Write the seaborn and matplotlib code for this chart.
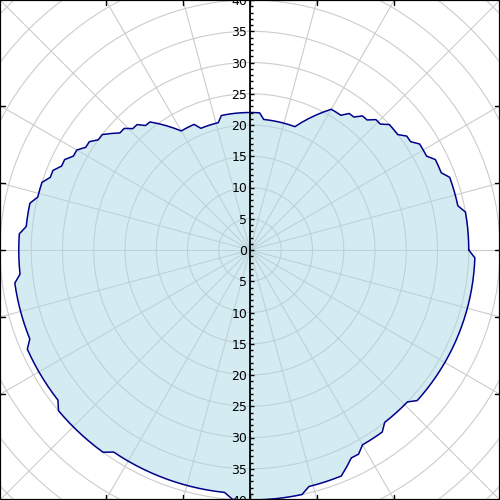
import numpy as np
import pandas as pd
import matplotlib
matplotlib.use("Agg")
import matplotlib.pyplot as plt
import seaborn as sns
from matplotlib.ticker import MultipleLocator, FuncFormatter
from matplotlib.patches import Circle, Rectangle

# ---- data: radius (integer values) every 2 degrees, counter-clockwise from east ----
angles_deg = list(range(0, 360, 2))
radii = (
    [35, 35, 35, 35, 35, 35] +                 # 0-10
    [34, 34, 34, 34, 34] +                     # 12-20
    [33, 33, 33] +                             # 22-26
    [32, 32, 32] +                             # 28-32
    [31, 31] +                                 # 34-36
    [30, 30, 30] +                             # 38-42
    [29, 29] +                                 # 44-46
    [28, 28] +                                 # 48-50
    [27, 27] +                                 # 52-54
    [26, 26, 26] +                             # 56-60
    [25, 24, 23, 22] +                         # 62-68
    [21, 21, 21, 21, 21, 21, 21, 21] +         # 70-84
    [22, 22, 22, 22, 22, 22, 22, 22, 22] +     # 86-102
    [21, 21, 21, 21, 21] +                     # 104-112
    [22, 22, 22, 22] +                         # 114-120
    [23, 24, 25, 26, 26, 27, 27, 28, 28, 29, 30, 30,
     31, 31, 32, 32, 33, 33, 34, 34, 35, 35, 35] +   # 122-166
    [36, 36, 36, 36] +                         # 168-174
    [37, 37, 37, 37, 37, 37] +                 # 176-186
    [38, 38, 38, 38, 38, 38, 38, 38] +         # 188-202
    [39, 39, 39, 39, 39, 39, 39, 39] +         # 204-218
    [40, 40, 40, 40, 40, 40, 40, 40] +         # 220-234
    [39] * 15 +                                # 236-264
    [40] * 9 +                                 # 266-282
    [39] * 5 +                                 # 284-292
    [38, 37, 37] +                             # 294-298
    [36, 36, 36, 36] +                         # 300-306
    [35, 35, 35, 35, 35] +                     # 308-316
    [36] * 21                                  # 318-358
)
assert len(radii) == len(angles_deg)

radial_tick_step = 5
grid_radii = list(range(5, 60, 5))
spoke_angles = list(range(0, 360, 15))
r_max = 40

# ---- build table ----
df = pd.DataFrame({"angle": angles_deg + [angles_deg[0]],
                   "r": radii + [radii[0]]})
theta = np.deg2rad(df["angle"].to_numpy())
df["x"] = df["r"] * np.cos(theta)
df["y"] = df["r"] * np.sin(theta)

sns.set_style("white")
fig = plt.figure(figsize=(5, 5), dpi=100)
ax = fig.add_axes([0, 0, 1, 1])
ax.set_xlim(-r_max, r_max)
ax.set_ylim(-r_max, r_max)

# grid circles and spokes
for gr in grid_radii:
    ax.add_patch(Circle((0, 0), gr, fill=False, ec="#cccccc", lw=0.8, zorder=1))
for a in spoke_angles:
    t = np.deg2rad(a)
    ax.plot([0, 60 * np.cos(t)], [0, 60 * np.sin(t)], color="#cccccc", lw=0.8, zorder=1)

# frame ticks where spokes meet the frame
tick_len = 0.8
for a in spoke_angles:
    t = np.deg2rad(a)
    c, s = np.cos(t), np.sin(t)
    if abs(abs(c) - abs(s)) < 1e-6:
        continue
    m = max(abs(c), abs(s))
    px, py = r_max * c / m, r_max * s / m
    if abs(c) > abs(s):
        ax.plot([px, px - np.sign(c) * tick_len], [py, py], color="black", lw=1, zorder=5, clip_on=False)
    else:
        ax.plot([px, px], [py, py - np.sign(s) * tick_len], color="black", lw=1, zorder=5, clip_on=False)

# data
ax.fill(df["x"], df["y"], color="lightblue", alpha=0.5, lw=0, zorder=2)
sns.lineplot(data=df, x="x", y="y", sort=False, estimator=None, color="darkblue",
             lw=1.1, ax=ax, zorder=3)

# axes styling
for side in ["top", "right", "bottom"]:
    ax.spines[side].set_visible(False)
ax.spines["left"].set_position(("data", 0))
ax.spines["left"].set_linewidth(1.3)
ax.spines["left"].set_color("black")
ax.spines["left"].set_zorder(6)
ax.add_patch(Rectangle((0, 0), 1, 1, transform=ax.transAxes, fill=False, ec="black",
                       lw=1.6, zorder=7, clip_on=False))

ax.set_xticks([])
ax.yaxis.set_zorder(6)
ax.yaxis.set_major_locator(MultipleLocator(radial_tick_step))
ax.yaxis.set_minor_locator(MultipleLocator(1))
ax.yaxis.set_major_formatter(FuncFormatter(lambda v, p: f"{abs(int(round(v)))}"))
ax.tick_params(axis="y", which="both", left=True, right=False, colors="black", labelcolor="black")
ax.tick_params(axis="y", which="major", direction="in", length=3.2, width=1, labelsize=9, pad=2)
ax.tick_params(axis="y", which="minor", direction="in", length=2.2, width=1)
ax.set_xlabel("")
ax.set_ylabel("")
ax.grid(False)

fig.savefig("out.png", dpi=100)
